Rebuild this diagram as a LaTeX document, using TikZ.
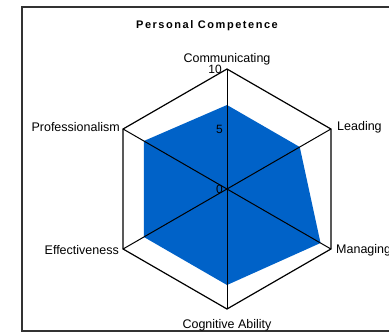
\documentclass[tikz,border=0pt]{standalone}
\usepackage{fontspec}
\setmainfont{Liberation Sans}
\usetikzlibrary{calc}
\definecolor{radarblue}{RGB}{0,98,200}
\definecolor{framegray}{RGB}{50,50,50}
\begin{document}
\begin{tikzpicture}[x=1pt,y=1pt,
  lbl/.style={font=\fontsize{12.5}{13}\selectfont, inner sep=0pt},
  ticklbl/.style={font=\fontsize{12}{13}\selectfont, inner sep=0pt, anchor=east},
  gridline/.style={draw=black, line width=1.2pt, line join=miter},
  spoke/.style={draw=black, line width=1pt}]
\useasboundingbox (0,0) rectangle (389,333);
\fill[white] (0,0) rectangle (389,333);
\draw[framegray, line width=2pt] (22,2) rectangle (400,326);
\coordinate (c) at (227,144);
\foreach \n/\a in {com/90, lea/30, man/-30, cog/-90, eff/210, pro/150}
  \coordinate (\n) at ($(c)+(\a:120)$);
% data
\foreach \n/\a/\v in {dcom/90/7, dlea/30/7, dman/-30/9, dcog/-90/8, deff/210/8, dpro/150/8}
  \coordinate (\n) at ($(c)+(\a:12*\v)$);
\fill[radarblue] (dcom) -- (dlea) -- (dman) -- (dcog) -- (deff) -- (dpro) -- cycle;
\draw[spoke] (com) -- (cog);
\draw[spoke] (lea) -- (eff);
\draw[spoke] (pro) -- (man);
\draw[gridline] (com) -- (lea) -- (man) -- (cog) -- (eff) -- (pro) -- cycle;
\node[font=\bfseries\fontsize{11}{12}\selectfont\addfontfeature{LetterSpace=14}, inner sep=0pt] (title) at (207,307) {Personal Competence};
\node[lbl, anchor=south] (lcom) at (227,268) {Communicating};
\node[lbl, anchor=west] (llea) at (337,206) {Leading};
\node[lbl, anchor=west] (lman) at (336,83) {Managing};
\node[lbl] (lcog) at (227,8) {Cognitive Ability};
\node[lbl, anchor=east] (leff) at (119,83) {Effectiveness};
\node[lbl, anchor=east] (lpro) at (120,206) {Professionalism};
\node[ticklbl] (t10) at (222,264) {10};
\node[ticklbl] (t5) at (223,204) {5};
\node[ticklbl] (t0) at (223,144) {0};
\end{tikzpicture}
\end{document}
